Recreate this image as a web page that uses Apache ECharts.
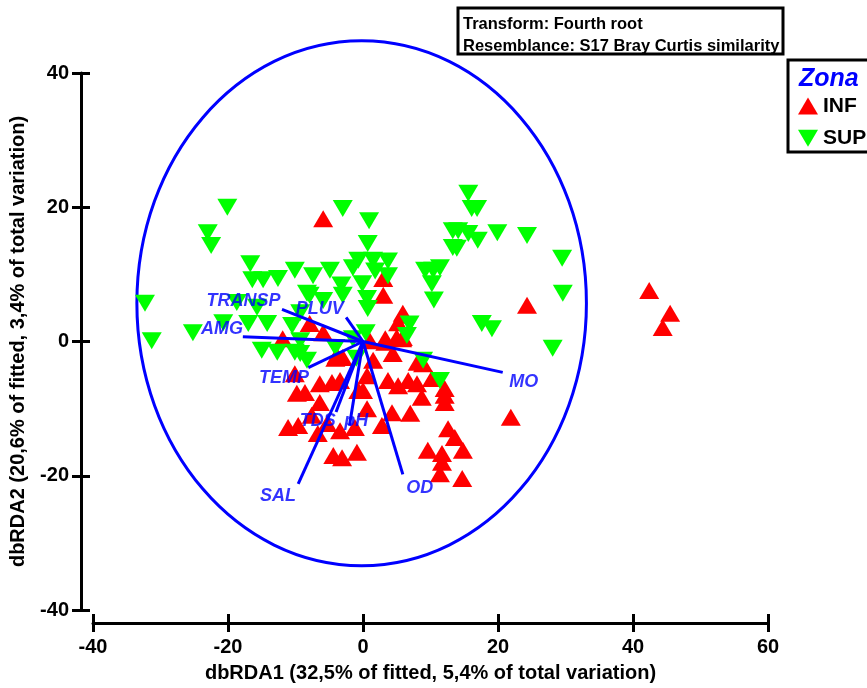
<!DOCTYPE HTML>
<html>
<head>
<title>dbRDA Zona</title>
<script src="https://cdn.jsdelivr.net/npm/echarts@6.0.0/dist/echarts.min.js"></script>
</head>
<body style="margin:0;background:#fff">
<div id="main" style="width:867px;height:688px;"></div>
<script type="text/javascript">

// INF samples (red, triangle up)
var infX = [-5.9, 3.0, 3.0, 5.9, 5.2, 5.9, -7.9, -5.9, 3.3, 24.3, 12.1, 21.9, 42.4, 45.5, 44.4,
    -11.9, -3.9, -10.1, -6.4, -4.6, -3.4, -9.8, -8.6, -6.4, -11.1, -9.6, -6.7, -5.3, -3.4, -1.2,
    -4.4, -3.1, -0.9, -0.7, -7.6, 3.3, 5.8, 1.5, 4.4, 8.1, 3.7, 5.2, 6.7, 8.0, 10.2, 0.0, 8.7,
    12.1, 12.1, 0.6, 4.3, 7.0, 2.8, 12.6, 13.6, 9.6, 11.7, 14.8, 11.7, 11.4, 14.7, 0.6, 1.0,
    5.0, 8.9, -4.1, -3.0, 5.9];
var infY = [18.3, 9.4, 6.9, 4.2, 2.8, 0.6, 2.7, 1.3, 0.4, 5.4, -7.0, -11.3, 7.6, 4.2, 2.1,
    0.4, -2.1, -4.8, -6.3, -6.1, -5.8, -7.7, -7.6, -9.1, -12.8, -12.5, -13.7, -12.2, -13.3, -12.8,
    -17.0, -17.3, -16.5, -7.3, -11.0, -0.1, 0.4, -2.8, -1.8, -3.1, -5.8, -6.6, -5.8, -6.3, -5.5, -7.3, -8.3,
    -8.0, -9.1, -10.0, -10.6, -10.7, -12.5, -13.0, -14.3, -16.2, -16.7, -16.2, -18.0, -19.7, -20.4, -5.1, 0.1,
    0.6, -3.3, -2.5, -2.4, 3.9];

// SUP samples (green, triangle down)
var supX = [-20.1, -23.0, -22.5, -16.7, -16.4, -14.8, -12.6, -10.1, -32.3, -31.3, -25.2, -18.7, -15.7,
    -20.7, -17.0, -14.2, -10.5, -15.0, -12.7, -10.1, -8.3, -8.3, -3.0, 0.9, 0.7, -0.7, 1.5, -1.5, 3.7,
    -7.4, -4.9, -3.2, -0.1, 1.8, 3.7, 0.6, 9.2, 10.4, 10.2, 10.5, 13.3, 13.3, -7.9, -5.9, -3.0, 0.7,
    6.9, 0.4, -9.3, 6.5, -1.5, -4.1, -9.3, -9.3, 8.9, 15.6, 16.1, 16.9, 14.1, 15.6, 17.0, 19.9, 24.3,
    13.9, 29.5, 29.6, 17.6, 19.1, 28.1, 11.4, 11.4, -1.0];
var supY = [20.0, 16.2, 14.3, 11.6, 9.2, 9.2, 9.4, 10.6, 5.7, 0.1, 1.3, 5.8, 5.1,
    2.8, 2.7, 2.7, 2.4, -1.3, -1.6, -1.6, -2.8, 7.2, 19.8, 18.0, 14.6, 12.1, 12.1, 11.0, 12.0,
    9.8, 10.6, 8.4, 8.6, 10.5, 9.8, 6.4, 10.6, 10.6, 8.6, 6.2, 16.5, 14.0, 6.9, 6.1, 6.9, 4.9,
    2.6, 1.3, 4.3, 0.9, 0.4, -0.9, 0.1, -1.8, -2.8, 22.1, 19.8, 19.8, 16.5, 16.1, 15.1, 16.2, 15.8,
    13.9, 12.4, 7.2, 2.7, 1.9, -1.0, -5.8, 11.0, -2.5];

// environmental vectors
var vecNames = ['TRANSP', 'PLUV', 'AMG', 'TEMP', 'MO', 'TDS', 'pH', 'SAL', 'OD'];
var vecX = [-12.0, -2.5, -17.8, -8.1, 20.7, -4.0, -2.0, -9.6, 5.9];
var vecY = [4.8, 3.6, 0.7, -3.9, -4.6, -10.5, -12.5, -21.2, -19.8];
var labX = [-17.7, -6.4, -20.9, -11.7, 23.8, -6.7, -1.0, -12.6, 8.4];
var labY = [6.1, 4.8, 1.9, -5.5, -6.0, -11.8, -11.8, -23.0, -21.8];

// correlation circle: centre x, centre y, radius x, radius y
var circle = [-0.2, 5.7, 33.3, 39.1];

var xTicks = [-40, 60, 20];
var yTicks = [-40, 40, 20];

var FONT = '"Liberation Sans", Arial, sans-serif';

function pairs(xs, ys) {
    var out = [];
    for (var i = 0; i < xs.length; i++) out.push([xs[i], ys[i]]);
    return out;
}

var vecLines = [];
var vecLabels = [];
for (var i = 0; i < vecNames.length; i++) {
    vecLines.push({ coords: [[0, 0], [vecX[i], vecY[i]]] });
    vecLabels.push({ name: vecNames[i], value: [labX[i], labY[i]] });
}

var chart = echarts.init(document.getElementById('main'));

var tickStyle = { color: '#000', width: 3 };
var nameStyle = { color: '#000', fontFamily: FONT, fontWeight: 'bold', fontSize: 20 };
var labelStyle = { color: '#000', fontFamily: FONT, fontWeight: 'bold', fontSize: 20 };

var option = {
    animation: false,
    backgroundColor: '#fff',
    grid: { left: 93, right: 99, top: 73, bottom: 78, containLabel: false, outerBoundsMode: 'none' },
    xAxis: [
        {
            type: 'value', min: xTicks[0], max: xTicks[1], interval: xTicks[2],
            position: 'bottom', offset: 13,
            splitLine: { show: false },
            axisLine: { onZero: false, lineStyle: tickStyle },
            axisTick: { length: 9, lineStyle: tickStyle },
            axisLabel: Object.assign({ margin: 7 }, labelStyle),
            name: 'dbRDA1 (32,5% of fitted, 5,4% of total variation)',
            nameLocation: 'middle', nameGap: 33, nameMoveOverlap: false,
            nameTextStyle: nameStyle
        },
        {
            type: 'value', min: xTicks[0], max: xTicks[1], interval: xTicks[2],
            position: 'bottom', offset: 13,
            splitLine: { show: false },
            axisLine: { show: false, onZero: false },
            axisTick: { inside: true, length: 9, lineStyle: tickStyle },
            axisLabel: { show: false }
        }
    ],
    yAxis: [
        {
            type: 'value', min: yTicks[0], max: yTicks[1], interval: yTicks[2],
            position: 'left', offset: 12,
            splitLine: { show: false },
            axisLine: { onZero: false, lineStyle: tickStyle },
            axisTick: { length: 9, lineStyle: tickStyle },
            axisLabel: Object.assign({ margin: 12 }, labelStyle),
            name: 'dbRDA2 (20,6% of fitted, 3,4% of total variation)',
            nameLocation: 'middle', nameGap: 45, nameRotate: 90, nameMoveOverlap: false,
            nameTextStyle: nameStyle
        },
        {
            type: 'value', min: yTicks[0], max: yTicks[1], interval: yTicks[2],
            position: 'left', offset: 12,
            splitLine: { show: false },
            axisLine: { show: false, onZero: false },
            axisTick: { inside: true, length: 9, lineStyle: tickStyle },
            axisLabel: { show: false }
        }
    ],
    legend: {
        orient: 'vertical', left: 793, top: 83, itemWidth: 20, itemHeight: 17, itemGap: -4,
        textStyle: { color: '#000', fontFamily: FONT, fontWeight: 'bold', fontSize: 21 },
        data: [
            { name: 'INF', icon: 'triangle' },
            { name: 'SUP', icon: 'path://M0,0L20,0L10,17Z' }
        ]
    },
    graphic: [
        {
            type: 'rect', shape: { x: 458, y: 8, width: 325, height: 46 },
            style: { fill: '#fff', stroke: '#000', lineWidth: 3 }
        },
        {
            type: 'text', x: 463, y: 10,
            style: { text: 'Transform: Fourth root', fill: '#000', font: 'bold 16.5px ' + FONT }
        },
        {
            type: 'text', x: 463, y: 32,
            style: { text: 'Resemblance: S17 Bray Curtis similarity', fill: '#000', font: 'bold 16.5px ' + FONT }
        },
        {
            type: 'rect', shape: { x: 788, y: 60, width: 100, height: 92 },
            style: { fill: 'none', stroke: '#000', lineWidth: 3 }
        },
        {
            type: 'text', x: 799, y: 58,
            style: { text: 'Zona', fill: '#0000ff', font: 'italic bold 25px ' + FONT }
        }
    ],
    series: [
        {
            type: 'custom',
            silent: true,
            z: 1,
            data: [circle],
            renderItem: function (params, api) {
                var c = api.coord([api.value(0), api.value(1)]);
                var s = api.size([api.value(2), api.value(3)]);
                return {
                    type: 'ellipse',
                    shape: { cx: c[0], cy: c[1], rx: s[0], ry: s[1] },
                    style: { fill: 'none', stroke: '#0000ff', lineWidth: 3 }
                };
            }
        },
        {
            name: 'INF', type: 'scatter', z: 2,
            symbol: 'triangle', symbolSize: [20, 17],
            itemStyle: { color: '#ff0000', opacity: 1 },
            data: pairs(infX, infY)
        },
        {
            name: 'SUP', type: 'scatter', z: 3,
            symbol: 'path://M0,0L20,0L10,17Z', symbolSize: [20, 17],
            itemStyle: { color: '#00ff00', opacity: 1 },
            data: pairs(supX, supY)
        },
        {
            type: 'lines', coordinateSystem: 'cartesian2d', z: 4, silent: true,
            lineStyle: { color: '#0000ff', width: 3, opacity: 1 },
            data: vecLines
        },
        {
            type: 'scatter', z: 5, silent: true,
            symbolSize: 0,
            label: {
                show: true, position: 'inside', formatter: '{b}',
                color: '#0000ff', fontFamily: FONT, fontWeight: 'bold', fontStyle: 'italic', fontSize: 18
            },
            data: vecLabels
        }
    ]
};

chart.setOption(option);

</script>
</body>
</html>
